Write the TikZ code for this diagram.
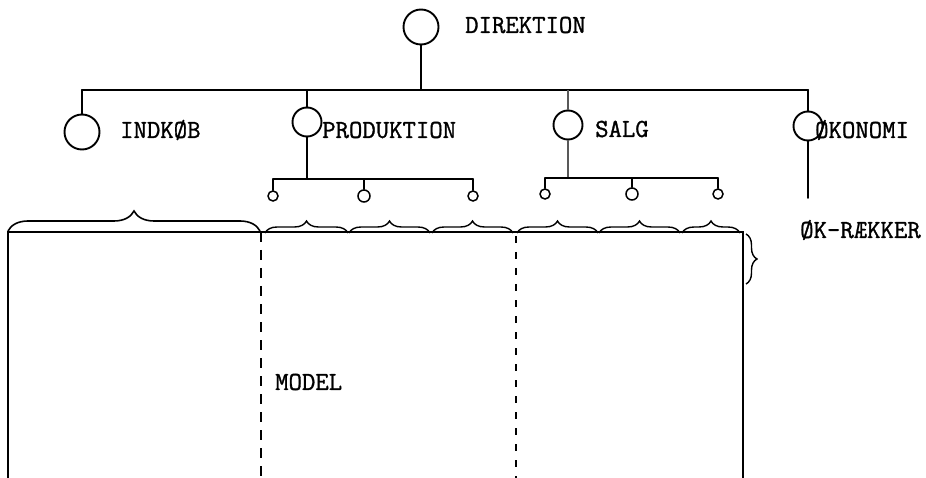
\documentclass[tikz,border=0pt]{standalone}
\usepackage{fontspec}
\newfontfamily\typew{Latin Modern Mono}[FakeBold=1.2]
\usetikzlibrary{decorations.pathreplacing}
\begin{document}
\begin{tikzpicture}[x=1pt,y=-1pt,
  ln/.style={line width=1.9pt, line cap=round},
  thinln/.style={line width=1.2pt, black!65},
  bigc/.style={circle, draw, line width=1.9pt, minimum size=35pt, inner sep=0pt},
  midc/.style={circle, draw, line width=1.9pt, minimum size=29pt, inner sep=0pt},
  smallc/.style={circle, draw, line width=1.5pt, minimum size=10pt, inner sep=0pt},
  lbl/.style={font=\fontsize{26}{30}\selectfont\typew, inner sep=0pt, anchor=west},
  brc/.style={decorate, decoration={brace, amplitude=#1}, line width=1.6pt},
  dash1/.style={line width=1.9pt, dash pattern=on 10pt off 8pt},
  dash2/.style={line width=1.3pt, dash pattern=on 7pt off 9pt},
]
\useasboundingbox (0,0) rectangle (926,478);

% top level
\node[bigc] (dir) at (421,27) {};
\node[lbl] (dirT) at (465,25) {DIREKTION};
\coordinate (bar) at (421,90);
\coordinate (barL) at (82,90);
\coordinate (barR) at (808,90);
\draw[ln] (dir) -- (bar);
\draw[ln, line width=2.3pt] (barL) -- (barR);

% second level
\node[bigc] (ind) at (82,132) {};
\node[lbl] (indT) at (120,130) {INDKØB};
\node[midc] (prod) at (307,122) {};
\node[lbl] (prodT) at (322,130) {PRODUKTION};
\node[midc] (salg) at (568,125) {};
\node[lbl] (salgT) at (595,129) {SALG};
\node[midc] (oko) at (808,126) {};
\node[lbl] (okoT) at (815,130) {ØKONOMI};

\draw[ln] (barL) -- (ind);
\draw[ln] (prod |- bar) -- (prod);
\draw[thinln] (salg |- bar) -- (salg);
\draw[ln] (barR) -- (oko);

% production sub-tree
\coordinate (pbar) at (307,179);
\coordinate (pL) at (273,179);
\coordinate (pR) at (473,179);
\node[smallc] (pc1) at (273,196) {};
\node[smallc, minimum width=12pt] (pc2) at (364,196) {};
\node[smallc] (pc3) at (473,196) {};
\draw[ln] (prod) -- (pbar);
\draw[ln] (pL) -- (pR);
\draw[ln, line width=1.5pt] (pL) -- (pc1);
\draw[ln, line width=1.5pt] (pc2 |- pbar) -- (pc2);
\draw[ln, line width=1.5pt] (pR) -- (pc3);

% salg sub-tree
\coordinate (sbar) at (568,178);
\coordinate (sL) at (545,178);
\coordinate (sR) at (718,178);
\node[smallc] (sc1) at (545,194) {};
\node[smallc, minimum width=12pt] (sc2) at (632,194) {};
\node[smallc] (sc3) at (718,194) {};
\draw[thinln] (salg) -- (sbar);
\draw[ln] (sL) -- (sR);
\draw[ln, line width=1.5pt] (sL) -- (sc1);
\draw[ln, line width=1.5pt] (sc2 |- sbar) -- (sc2);
\draw[ln, line width=1.5pt] (sR) -- (sc3);

% oekonomi
\coordinate (okend) at (808,198);
\draw[ln] (oko) -- (okend);
\node[lbl] (okr) at (800,230) {ØK-RÆKKER};

% box
\coordinate (boxTL) at (8,232);
\coordinate (boxTR) at (743,232);
\coordinate (boxBL) at (8,478);
\coordinate (boxBR) at (743,478);
\draw[ln, line cap=butt] (boxBL) -- (boxTL) -- (boxTR) -- (boxBR);
\coordinate (d1t) at (261,232);
\coordinate (d1b) at (261,478);
\coordinate (d2t) at (516,236);
\coordinate (d2b) at (516,478);
\draw[dash1] (d1t) -- (d1b);
\draw[dash2] (d2t) -- (d2b);
\node[lbl] (model) at (275,382) {MODEL};

% braces
\coordinate (b0a) at (8,231);   \coordinate (b0b) at (260,231);
\coordinate (b1a) at (265,233); \coordinate (b1b) at (348,233);
\coordinate (b2a) at (349,233); \coordinate (b2b) at (430,233);
\coordinate (b3a) at (432,233); \coordinate (b3b) at (513,233);
\coordinate (b4a) at (517,233); \coordinate (b4b) at (598,233);
\coordinate (b5a) at (599,233); \coordinate (b5b) at (680,233);
\coordinate (b6a) at (682,233); \coordinate (b6b) at (740,233);
\coordinate (bra) at (746,234); \coordinate (brb) at (746,284);
\draw[brc=20] (b0a) -- (b0b);
\draw[brc=12, line width=1.4pt] (b1a) -- (b1b);
\draw[brc=12, line width=1.4pt] (b2a) -- (b2b);
\draw[brc=12, line width=1.4pt] (b3a) -- (b3b);
\draw[brc=12, line width=1.4pt] (b4a) -- (b4b);
\draw[brc=12, line width=1.4pt] (b5a) -- (b5b);
\draw[brc=12, line width=1.4pt] (b6a) -- (b6b);
\draw[brc=11, line width=1.4pt] (bra) -- (brb);
\end{tikzpicture}
\end{document}
